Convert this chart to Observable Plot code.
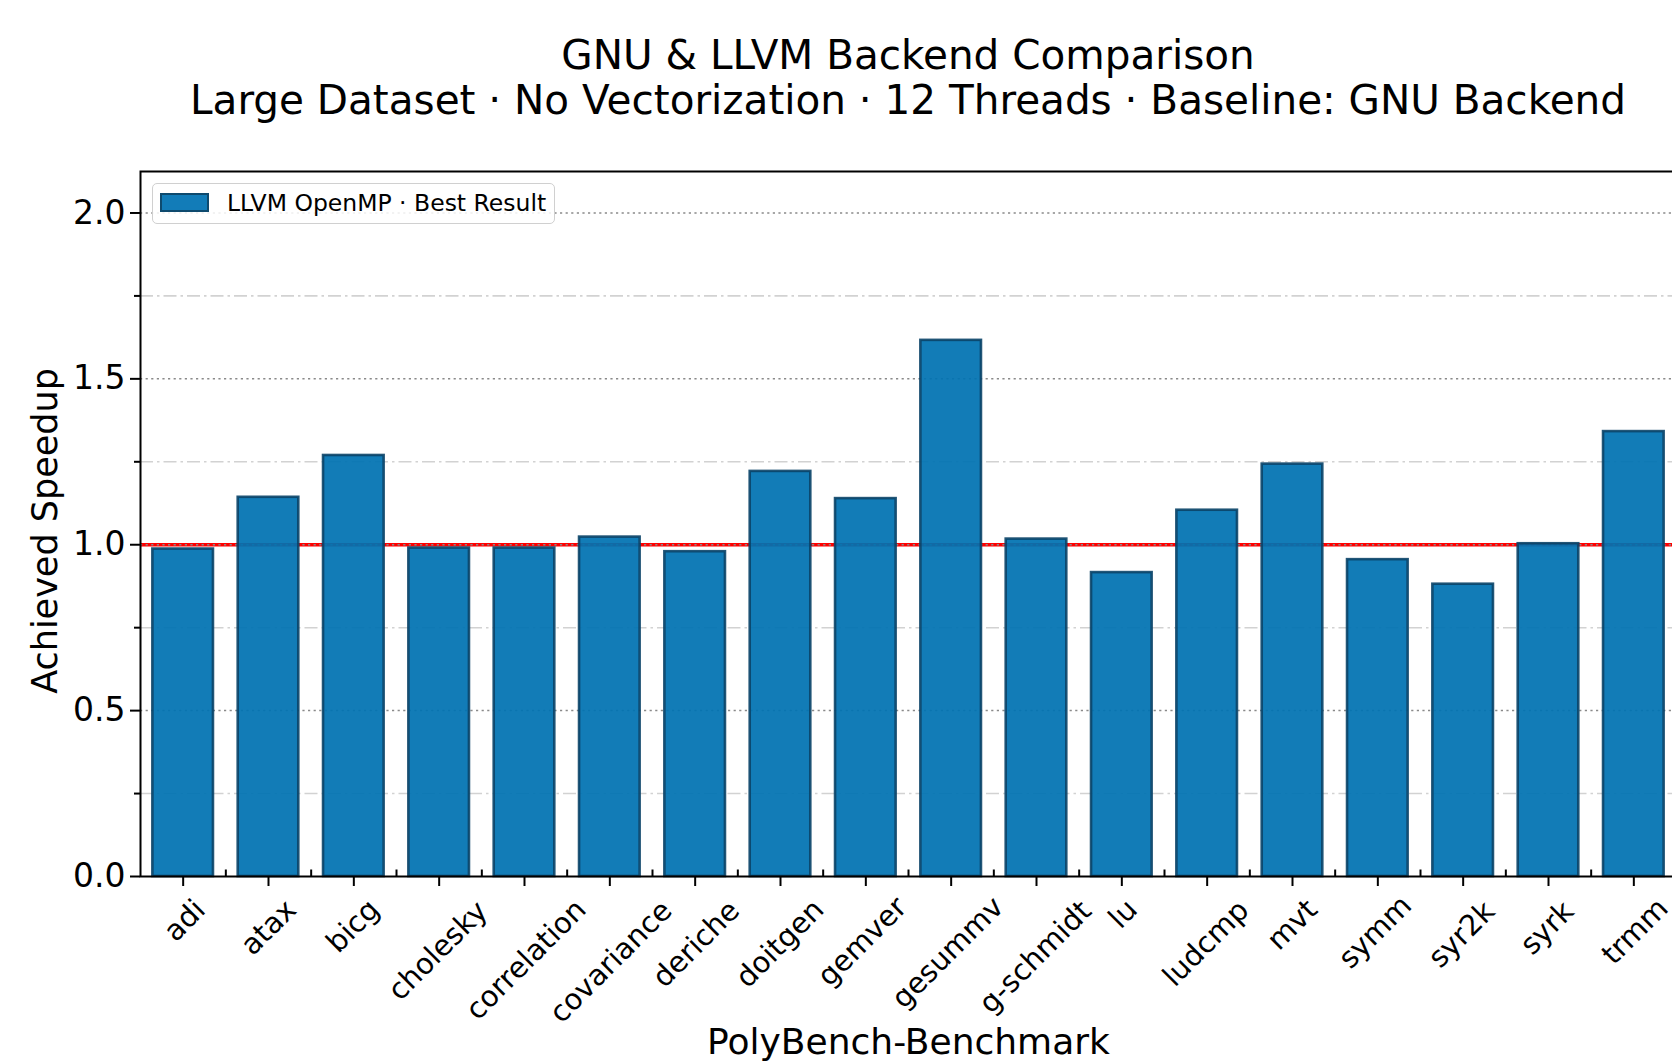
<!DOCTYPE html>
<html><head><meta charset="utf-8">
<script src="https://cdn.jsdelivr.net/npm/d3@7"></script>
<script src="https://cdn.jsdelivr.net/npm/@observablehq/plot@0.6"></script>
<style>
html,body{margin:0;padding:0;overflow:hidden;background:#fff;}
#wrap{position:relative;width:1676px;height:1061px;font-family:"DejaVu Sans",sans-serif;color:#000;}
#title{position:absolute;z-index:3;left:140px;top:0;width:1536px;text-align:center;padding-top:33px;font-size:40.5px;line-height:45px;white-space:nowrap;}
#chart{position:absolute;z-index:1;left:0;top:120px;width:1676px;}
#chart svg{max-width:none !important;}
#legend{position:absolute;z-index:2;left:152px;top:183px;width:401px;height:39px;border:1.5px solid #d0d0d0;border-radius:5px;background:rgba(255,255,255,0.85);}
#legend .sw{position:absolute;left:7px;top:8.5px;width:45px;height:15px;background:#127cb8;border:2px solid #0e4a6e;}
#legend .tx{position:absolute;left:74px;top:4.5px;font-size:23.5px;line-height:28px;white-space:nowrap;}
</style></head>
<body>
<div id="wrap">
  <div id="title"></div>
  <div id="chart"></div>
  <div id="legend"><div class="sw"></div><div class="tx"></div></div>
</div>
<script>
const titleLines = ["GNU & LLVM Backend Comparison", "Large Dataset · No Vectorization · 12 Threads · Baseline: GNU Backend"];
const benchmarks = ["adi", "atax", "bicg", "cholesky", "correlation", "covariance", "deriche", "doitgen", "gemver", "gesummv", "g-schmidt", "lu", "ludcmp", "mvt", "symm", "syr2k", "syrk", "trmm"];
const speedups = [0.987, 1.143, 1.269, 0.990, 0.990, 1.023, 0.979, 1.221, 1.139, 1.616, 1.017, 0.916, 1.104, 1.243, 0.955, 0.881, 1.003, 1.341];
const yMajorTicks = [0, 0.5, 1.0, 1.5, 2.0];
const yMinorTicks = [0.25, 0.75, 1.25, 1.75];
const baseline = 1.0;
const seriesName = "LLVM OpenMP · Best Result";
const xLabel = "PolyBench-Benchmark";
const yLabel = "Achieved Speedup";

document.getElementById("title").innerHTML = titleLines.map(t => t.replace(/&/g, "&amp;")).join("<br>");
document.querySelector("#legend .tx").textContent = seriesName;

const data = benchmarks.map((b, i) => ({benchmark: b, speedup: speedups[i]}));

const W = 1676, H = 941, mL = 140, mR = 0, mT = 51, mB = 185;
const step = (W - mL - mR) / benchmarks.length;
const plotH = H - mT - mB;

// measure tick labels to place rotated labels centered on their ticks
const tickFont = 29;
const ctx = document.createElement("canvas").getContext("2d");
ctx.font = `${tickFont}px "DejaVu Sans"`;
ctx.textAlign = "center";
ctx.textBaseline = "alphabetic";
const K = Math.SQRT1_2;
function offsets(s) {
  const m = ctx.measureText(s);
  const umin = -m.actualBoundingBoxLeft, umax = m.actualBoundingBoxRight;
  const base = 0.32 * tickFont;
  const vmin = base - m.actualBoundingBoxAscent, vmax = base + m.actualBoundingBoxDescent;
  return {dx: -K * (umin + umax + vmin + vmax) / 2, dy: 21 - K * (vmin - umax)};
}

const labelMarks = benchmarks.map(b => {
  const o = offsets(b);
  return Plot.text([b], {x: d => d, text: d => d, frameAnchor: "bottom", rotate: -45,
    textAnchor: "middle", lineAnchor: "middle", fontSize: tickFont, fill: "black", dx: o.dx, dy: o.dy});
});

const chart = Plot.plot({
  width: W, height: H,
  marginLeft: mL, marginRight: mR, marginTop: mT, marginBottom: mB,
  style: {fontFamily: "DejaVu Sans", fontSize: "28px", color: "black", background: "transparent", maxWidth: "none", overflow: "visible"},
  x: {type: "band", domain: benchmarks, paddingInner: 0.29, paddingOuter: 0.145, round: false, axis: null},
  y: {domain: [0, 2.125], axis: null},
  marks: [
    Plot.gridY({ticks: yMinorTicks, stroke: "#d2d2d2", strokeOpacity: 1, strokeWidth: 1.6, strokeDasharray: "13,4,2.5,4"}),
    Plot.ruleY([baseline], {stroke: "red", strokeWidth: 3.5}),
    Plot.gridY({ticks: yMajorTicks.filter(d => d > 0), stroke: "#8a8a8a", strokeOpacity: 1, strokeWidth: 1.5, strokeDasharray: "2.2,3.4"}),
    Plot.barY(data, {x: "benchmark", y: "speedup", fill: "#0072b2", fillOpacity: 0.93,
      stroke: "#0b4468", strokeOpacity: 0.9, strokeWidth: 2.6}),
    Plot.axisY({ticks: yMajorTicks, tickSize: 10, tickPadding: 5, tickFormat: d3.format(".1f"), label: null, fontSize: 33, strokeWidth: 2, fill: "black"}),
    Plot.axisY({ticks: yMinorTicks, tickSize: 6, tickFormat: () => "", label: null, strokeWidth: 2}),
    Plot.axisX({ticks: benchmarks, tickSize: 10, tickFormat: () => "", label: null, strokeWidth: 2}),
    Plot.ruleX(benchmarks.slice(0, -1), {x: d => d, dx: step / 2, insetTop: plotH - 6.5, stroke: "black", strokeWidth: 2}),
    ...labelMarks,
    Plot.text([yLabel], {text: d => d, frameAnchor: "left", dx: -95, dy: 7, rotate: -90, textAnchor: "middle", lineAnchor: "middle", fontSize: 35, fill: "black"}),
    Plot.text([xLabel], {text: d => d, frameAnchor: "bottom", dy: 166, textAnchor: "middle", lineAnchor: "middle", fontSize: 36, fill: "black"}),
    Plot.frame({stroke: "black", strokeWidth: 2})
  ]
});
document.getElementById("chart").appendChild(chart);
</script>
</body></html>
